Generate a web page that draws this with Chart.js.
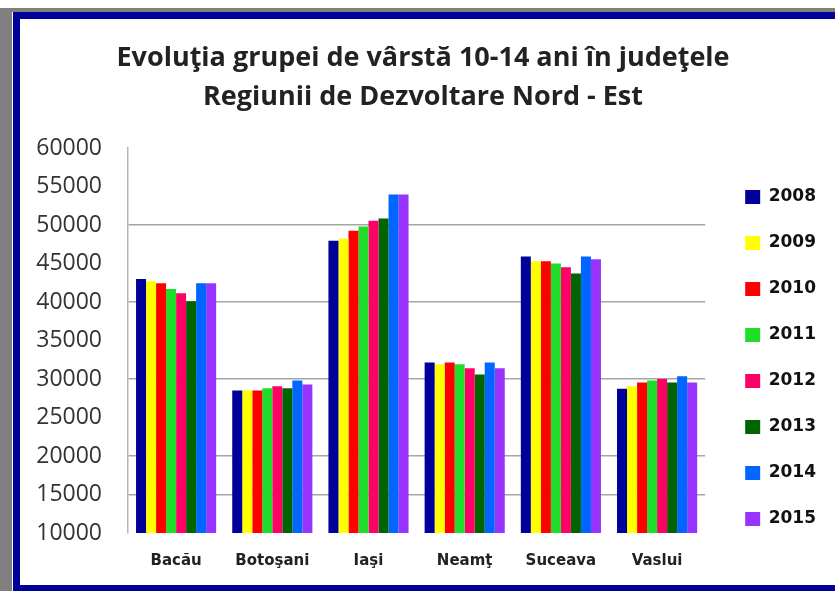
<!DOCTYPE html>
<html>
<head>
<meta charset="utf-8">
<script src="https://cdn.jsdelivr.net/npm/chart.js@4"></script>
<style>
  body { margin: 0; background: #fff; overflow: hidden; }
  #frame {
    position: absolute; left: 0; top: 8px; width: 900px; height: 600px;
    border-top: 4px solid #808080; border-left: 12px solid #808080;
  }
  #box {
    position: absolute; left: 13px; top: 12px; width: 900px; height: 566px;
    border: 7px solid #00009a; background: #fff;
  }
  #wrap { position: absolute; left: 20px; top: 19px; width: 815px; height: 566px; }
</style>
</head>
<body>
<div id="frame"></div>
<div id="box"></div>
<div id="wrap"><canvas id="chart"></canvas></div>
<script>
// date
const judete = ['Bacău', 'Botoşani', 'Iaşi', 'Neamţ', 'Suceava', 'Vaslui'];
const ani = ['2008', '2009', '2010', '2011', '2012', '2013', '2014', '2015'];
const v2008 = [43000, 28500, 47950, 32150, 45900, 28750];
const v2009 = [42700, 28500, 48200, 31900, 45300, 29050];
const v2010 = [42450, 28500, 49250, 32150, 45300, 29550];
const v2011 = [41700, 28800, 49800, 31900, 45000, 29800];
const v2012 = [41150, 29050, 50550, 31400, 44500, 30000];
const v2013 = [40100, 28800, 50850, 30600, 43700, 29550];
const v2014 = [42450, 29800, 53950, 32150, 45900, 30350];
const v2015 = [42450, 29300, 53950, 31400, 45550, 29550];
const yMin = 10000, yMax = 60000, yStep = 5000;
const liniiGrila = [15000, 20000, 30000, 40000, 50000];

const culori = ['#00009a', '#ffff00', '#ff0000', '#1ede2a', '#ff0066', '#006400', '#0066ff', '#9933ff'];
const serii = [v2008, v2009, v2010, v2011, v2012, v2013, v2014, v2015];

const ctx = document.getElementById('chart').getContext('2d');
new Chart(ctx, {
    type: 'bar',
    data: {
        labels: judete,
        datasets: serii.map((s, i) => ({
            label: ani[i],
            data: s,
            backgroundColor: culori[i],
            borderWidth: 0,
            categoryPercentage: 0.833,
            barPercentage: 1
        }))
    },
    options: {
        responsive: true,
        maintainAspectRatio: false,
        animation: false,
        layout: { padding: { left: 0, right: 9, top: 0, bottom: 0 } },
        scales: {
            x: {
                grid: { display: false, drawTicks: false },
                border: { display: false },
                ticks: {
                    padding: 19,
                    color: '#222',
                    font: { family: 'DejaVu Sans', size: 15, weight: 'bold' }
                },
                afterFit: s => { s.height = 52; }
            },
            y: {
                min: yMin,
                max: yMax,
                grid: {
                    drawTicks: false,
                    lineWidth: 1.5,
                    color: c => liniiGrila.includes(c.tick && c.tick.value) ? '#a6a6a6' : 'rgba(0,0,0,0)'
                },
                border: { color: '#b5b5b5', width: 1.5 },
                ticks: {
                    stepSize: yStep,
                    padding: 26,
                    color: '#333',
                    font: { family: 'Open Sans', size: 23 },
                    callback: v => String(v)
                },
                afterFit: s => { s.width = 108; }
            },
            yDreapta: {
                position: 'right',
                grid: { display: false, drawTicks: false },
                border: { display: false },
                ticks: { display: false },
                afterFit: s => { s.width = 11; }
            }
        },
        plugins: {
            title: {
                display: true,
                text: ['Evoluţia grupei de vârstă 10-14 ani în judeţele', 'Regiunii de Dezvoltare Nord - Est'],
                color: '#222',
                font: { family: 'Open Sans', size: 27, weight: 'bold', lineHeight: '39px' },
                padding: { top: 19.5, bottom: 31.5 }
            },
            legend: {
                position: 'right',
                align: 'start',
                title: { display: true, text: ' ', font: { size: 12 }, padding: { top: 126, bottom: 0 } },
                labels: {
                    boxWidth: 15,
                    boxHeight: 14,
                    padding: 29,
                    color: '#111',
                    font: { family: 'DejaVu Sans', size: 17, weight: 'bold' }
                }
            },
            tooltip: { enabled: false }
        }
    }
});
</script>
</body>
</html>
